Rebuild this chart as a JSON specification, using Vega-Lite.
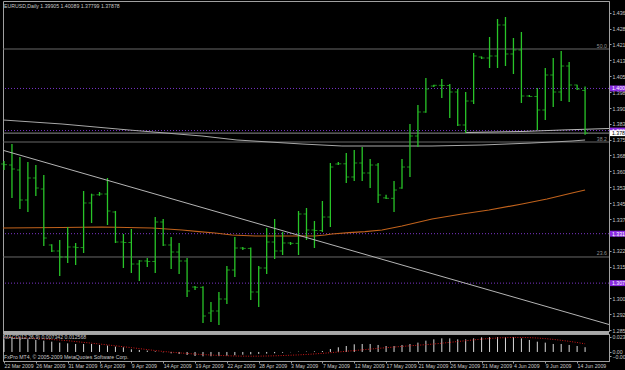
{
  "$schema": "https://vega.github.io/schema/vega-lite/v6.json",
  "background": "#000000",
  "padding": {"left": 0, "top": 0, "right": 0, "bottom": 0},
  "spacing": 3,
  "bounds": "flush",
  "config": {
    "view": {"stroke": "#a0a0a0", "strokeWidth": 1},
    "axis": {"labelFont": "Liberation Sans", "labelFontSize": 5.2, "labelColor": "#c8c8c8", "domainColor": "#a0a0a0", "tickColor": "#a0a0a0", "grid": false},
    "text": {"font": "Liberation Sans"}
  },
  "datasets": {
    "bars": [
      {"i":0,"o":1.36411,"h":1.36553,"l":1.36126,"c":1.36380},
      {"i":1,"o":1.36363,"h":1.37361,"l":1.34795,"c":1.36173},
      {"i":2,"o":1.36126,"h":1.36743,"l":1.34273,"c":1.34700},
      {"i":3,"o":1.34700,"h":1.36506,"l":1.34130,"c":1.35746},
      {"i":4,"o":1.35746,"h":1.36363,"l":1.34890,"c":1.35270},
      {"i":5,"o":1.35223,"h":1.35888,"l":1.32514,"c":1.32894},
      {"i":6,"o":1.32562,"h":1.32600,"l":1.32229,"c":1.32277},
      {"i":7,"o":1.32277,"h":1.32799,"l":1.31089,"c":1.31992},
      {"i":8,"o":1.31992,"h":1.33417,"l":1.31707,"c":1.32467},
      {"i":9,"o":1.32467,"h":1.32657,"l":1.31612,"c":1.32440},
      {"i":10,"o":1.32440,"h":1.35128,"l":1.32182,"c":1.34558},
      {"i":11,"o":1.34558,"h":1.35000,"l":1.33607,"c":1.34938},
      {"i":12,"o":1.34950,"h":1.35080,"l":1.34900,"c":1.34985},
      {"i":13,"o":1.34985,"h":1.35746,"l":1.33512,"c":1.34177},
      {"i":14,"o":1.34130,"h":1.34180,"l":1.32657,"c":1.32704},
      {"i":15,"o":1.32704,"h":1.33085,"l":1.31469,"c":1.32680},
      {"i":16,"o":1.32680,"h":1.33322,"l":1.31231,"c":1.31659},
      {"i":17,"o":1.31659,"h":1.31849,"l":1.30851,"c":1.31802},
      {"i":18,"o":1.31802,"h":1.31944,"l":1.31517,"c":1.31780},
      {"i":19,"o":1.31780,"h":1.33892,"l":1.31231,"c":1.33655},
      {"i":20,"o":1.33655,"h":1.33797,"l":1.32520,"c":1.32562},
      {"i":21,"o":1.32562,"h":1.32942,"l":1.31421,"c":1.32229},
      {"i":22,"o":1.32229,"h":1.32657,"l":1.31184,"c":1.31802},
      {"i":23,"o":1.31802,"h":1.31944,"l":1.30091,"c":1.30376},
      {"i":24,"o":1.30566,"h":1.30614,"l":1.30424,"c":1.30550},
      {"i":25,"o":1.30550,"h":1.30600,"l":1.28856,"c":1.29188},
      {"i":26,"o":1.29331,"h":1.29853,"l":1.28903,"c":1.29426},
      {"i":27,"o":1.29426,"h":1.30329,"l":1.28761,"c":1.29996},
      {"i":28,"o":1.29996,"h":1.31564,"l":1.29758,"c":1.31374},
      {"i":29,"o":1.31374,"h":1.32942,"l":1.31041,"c":1.32419},
      {"i":30,"o":1.32419,"h":1.32467,"l":1.32324,"c":1.32400},
      {"i":31,"o":1.32400,"h":1.32440,"l":1.29948,"c":1.30329},
      {"i":32,"o":1.30329,"h":1.31564,"l":1.29616,"c":1.31469},
      {"i":33,"o":1.31469,"h":1.33370,"l":1.31184,"c":1.32704},
      {"i":34,"o":1.32704,"h":1.33797,"l":1.31897,"c":1.32277},
      {"i":35,"o":1.32277,"h":1.33180,"l":1.32087,"c":1.32657},
      {"i":36,"o":1.32657,"h":1.32704,"l":1.32562,"c":1.32640},
      {"i":37,"o":1.32640,"h":1.34177,"l":1.32087,"c":1.34035},
      {"i":38,"o":1.34035,"h":1.34320,"l":1.32799,"c":1.33275},
      {"i":39,"o":1.33275,"h":1.33702,"l":1.32419,"c":1.33250},
      {"i":40,"o":1.33250,"h":1.34653,"l":1.33180,"c":1.33892},
      {"i":41,"o":1.33892,"h":1.36458,"l":1.33417,"c":1.36268},
      {"i":42,"o":1.36411,"h":1.36506,"l":1.36363,"c":1.36420},
      {"i":43,"o":1.36420,"h":1.36933,"l":1.35508,"c":1.35793},
      {"i":44,"o":1.35793,"h":1.37076,"l":1.35603,"c":1.36458},
      {"i":45,"o":1.36458,"h":1.37219,"l":1.35603,"c":1.35983},
      {"i":46,"o":1.35983,"h":1.36648,"l":1.35270,"c":1.36363},
      {"i":47,"o":1.36363,"h":1.36458,"l":1.34558,"c":1.34938},
      {"i":48,"o":1.34800,"h":1.34950,"l":1.34748,"c":1.34780},
      {"i":49,"o":1.34780,"h":1.35603,"l":1.34130,"c":1.35175},
      {"i":50,"o":1.35270,"h":1.36648,"l":1.35240,"c":1.36268},
      {"i":51,"o":1.36268,"h":1.38311,"l":1.35793,"c":1.37741},
      {"i":52,"o":1.37741,"h":1.39214,"l":1.37219,"c":1.38882},
      {"i":53,"o":1.38882,"h":1.40497,"l":1.38850,"c":1.39975},
      {"i":54,"o":1.40117,"h":1.40180,"l":1.40070,"c":1.40150},
      {"i":55,"o":1.40150,"h":1.40450,"l":1.39547,"c":1.40140},
      {"i":56,"o":1.40140,"h":1.40212,"l":1.38597,"c":1.39832},
      {"i":57,"o":1.39832,"h":1.39975,"l":1.38216,"c":1.38264},
      {"i":58,"o":1.38264,"h":1.39832,"l":1.37884,"c":1.39404},
      {"i":59,"o":1.39404,"h":1.41685,"l":1.39262,"c":1.41543},
      {"i":60,"o":1.41495,"h":1.41520,"l":1.41400,"c":1.41448},
      {"i":61,"o":1.41448,"h":1.42445,"l":1.40972,"c":1.41543},
      {"i":62,"o":1.41543,"h":1.43301,"l":1.40972,"c":1.43016},
      {"i":63,"o":1.43016,"h":1.43396,"l":1.41067,"c":1.41638},
      {"i":64,"o":1.41638,"h":1.42398,"l":1.40687,"c":1.41828},
      {"i":65,"o":1.41828,"h":1.42683,"l":1.39309,"c":1.39642},
      {"i":66,"o":1.39642,"h":1.39689,"l":1.39594,"c":1.39620},
      {"i":67,"o":1.39620,"h":1.40022,"l":1.38026,"c":1.38977},
      {"i":68,"o":1.38977,"h":1.40972,"l":1.38502,"c":1.40640},
      {"i":69,"o":1.40640,"h":1.41448,"l":1.39119,"c":1.39832},
      {"i":70,"o":1.39832,"h":1.41780,"l":1.39404,"c":1.41067},
      {"i":71,"o":1.41067,"h":1.41257,"l":1.39357,"c":1.40165},
      {"i":72,"o":1.40165,"h":1.40180,"l":1.39927,"c":1.39975},
      {"i":73,"o":1.39905,"h":1.40089,"l":1.37799,"c":1.37878}
    ],
    "macd": [
      {"i":0,"m":0.0195,"s":0.0225},{"i":1,"m":0.0226,"s":0.0222},{"i":2,"m":0.0226,"s":0.0219},{"i":3,"m":0.0195,"s":0.0215},
      {"i":4,"m":0.0185,"s":0.0210},{"i":5,"m":0.0175,"s":0.0201},{"i":6,"m":0.0159,"s":0.0192},{"i":7,"m":0.0144,"s":0.0183},
      {"i":8,"m":0.0133,"s":0.0174},{"i":9,"m":0.0123,"s":0.0161},{"i":10,"m":0.0123,"s":0.0148},{"i":11,"m":0.0123,"s":0.0136},
      {"i":12,"m":0.0108,"s":0.0123},{"i":13,"m":0.0098,"s":0.0109},{"i":14,"m":0.0082,"s":0.0095},{"i":15,"m":0.0072,"s":0.0081},
      {"i":16,"m":0.0041,"s":0.0067},{"i":17,"m":0.0031,"s":0.0052},{"i":18,"m":0.0021,"s":0.0037},{"i":19,"m":0.0010,"s":0.0022},
      {"i":20,"m":-0.0005,"s":0.0008},{"i":21,"m":-0.0021,"s":-0.0003},{"i":22,"m":-0.0031,"s":-0.0013},{"i":23,"m":-0.0046,"s":-0.0023},
      {"i":24,"m":-0.0062,"s":-0.0032},{"i":25,"m":-0.0067,"s":-0.0040},{"i":26,"m":-0.0066,"s":-0.0047},{"i":27,"m":-0.0064,"s":-0.0053},
      {"i":28,"m":-0.0058,"s":-0.0058},{"i":29,"m":-0.0050,"s":-0.0062},{"i":30,"m":-0.0042,"s":-0.0064},{"i":31,"m":-0.0036,"s":-0.0065},
      {"i":32,"m":-0.0030,"s":-0.0064},{"i":33,"m":-0.0025,"s":-0.0062},{"i":34,"m":-0.0020,"s":-0.0059},{"i":35,"m":-0.0012,"s":-0.0055},
      {"i":36,"m":-0.0004,"s":-0.0050},{"i":37,"m":0.0005,"s":-0.0045},{"i":38,"m":0.0006,"s":-0.0038},{"i":39,"m":0.0010,"s":-0.0030},
      {"i":40,"m":0.0015,"s":-0.0021},{"i":41,"m":0.0046,"s":-0.0011},{"i":42,"m":0.0072,"s":0.0000},{"i":43,"m":0.0092,"s":0.0011},
      {"i":44,"m":0.0118,"s":0.0022},{"i":45,"m":0.0123,"s":0.0033},{"i":46,"m":0.0123,"s":0.0044},{"i":47,"m":0.0108,"s":0.0055},
      {"i":48,"m":0.0092,"s":0.0066},{"i":49,"m":0.0092,"s":0.0076},{"i":50,"m":0.0108,"s":0.0086},{"i":51,"m":0.0123,"s":0.0095},
      {"i":52,"m":0.0144,"s":0.0104},{"i":53,"m":0.0174,"s":0.0113},{"i":54,"m":0.0195,"s":0.0123},{"i":55,"m":0.0210,"s":0.0135},
      {"i":56,"m":0.0210,"s":0.0148},{"i":57,"m":0.0195,"s":0.0161},{"i":58,"m":0.0195,"s":0.0174},{"i":59,"m":0.0210,"s":0.0186},
      {"i":60,"m":0.0226,"s":0.0198},{"i":61,"m":0.0229,"s":0.0208},{"i":62,"m":0.0231,"s":0.0216},{"i":63,"m":0.0230,"s":0.0221},
      {"i":64,"m":0.0229,"s":0.0224},{"i":65,"m":0.0210,"s":0.0224},{"i":66,"m":0.0185,"s":0.0221},{"i":67,"m":0.0159,"s":0.0215},
      {"i":68,"m":0.0144,"s":0.0206},{"i":69,"m":0.0123,"s":0.0194},{"i":70,"m":0.0123,"s":0.0180},{"i":71,"m":0.0108,"s":0.0164},
      {"i":72,"m":0.0092,"s":0.0146},{"i":73,"m":0.007342,"s":0.012568}
    ],
    "fib": [{"lvl":"50.0","p":1.41875},{"lvl":"38.2","p":1.37456},{"lvl":"23.6","p":1.31992}],
    "hlines": [{"p":1.40000,"lab":"1.40000"},{"p":1.38000,"lab":"1.38000"},{"p":1.33100,"lab":"1.33100"},{"p":1.30750,"lab":"1.30750"}],
    "bid": [{"p":1.37878,"lab":"1.37878"}],
    "maGrey": [
      {"i":-0.126,"p":1.38502},{"i":7.29,"p":1.38311},{"i":15.7,"p":1.38026},{"i":24.87,"p":1.37741},{"i":29.27,"p":1.37551},
      {"i":37.44,"p":1.37361},{"i":42.46,"p":1.37266},{"i":53.77,"p":1.37266},{"i":60.05,"p":1.37313},{"i":66.33,"p":1.37408},
      {"i":71.36,"p":1.37503},{"i":73,"p":1.37551}
    ],
    "lineA": [{"i":57.91,"p":1.37908},{"i":65.08,"p":1.37955},{"i":70.1,"p":1.38026},{"i":76.0,"p":1.38098}],
    "maOrange": [
      {"i":-0.126,"p":1.33370},{"i":7.29,"p":1.33393},{"i":12.31,"p":1.33417},{"i":18.59,"p":1.33370},{"i":22.36,"p":1.33275},
      {"i":24.5,"p":1.33195},{"i":26.51,"p":1.33133},{"i":28.64,"p":1.33038},{"i":31.53,"p":1.32990},{"i":39.07,"p":1.32990},
      {"i":40.33,"p":1.33038},{"i":41.21,"p":1.33085},{"i":43.34,"p":1.33147},{"i":45.35,"p":1.33195},{"i":47.49,"p":1.33275},
      {"i":50.0,"p":1.33465},{"i":53.77,"p":1.33797},{"i":57.54,"p":1.34035},{"i":60.93,"p":1.34225},{"i":65.08,"p":1.34510},
      {"i":68.22,"p":1.34748},{"i":71.36,"p":1.35033},{"i":73,"p":1.35175}
    ],
    "trend": [{"i":-0.1256,"p":1.37062},{"i":76.005,"p":1.28784}]
  },
  "vconcat": [
    {
      "width": 606,
      "height": 330,
      "layer": [
        {
          "data": {"name": "fib"},
          "mark": {"type": "rule", "color": "#686868", "strokeWidth": 1},
          "encoding": {
            "y": {"field": "p", "type": "quantitative", "title": null, "scale": {"domain": [1.284754, 1.44156], "nice": false, "zero": false},
                  "axis": {"orient": "right", "values": [1.436, 1.4284, 1.421, 1.4134, 1.4058, 1.3982, 1.3906, 1.3832, 1.3756, 1.3682, 1.3606, 1.353, 1.3454, 1.3378, 1.3304, 1.3228, 1.3154, 1.3078, 1.3002, 1.2926, 1.2852], "format": ".5f", "tickSize": 2, "labelPadding": 1, "title": null, "labelOverlap": false, "labelFlush": false}}
          }
        },
        {
          "data": {"name": "fib"},
          "mark": {"type": "text", "align": "right", "baseline": "bottom", "fontSize": 5.2, "color": "#909090", "dy": -0.5},
          "encoding": {
            "x": {"datum": 75.75, "type": "quantitative", "title": null, "scale": {"domain": [-0.1256, 76.005], "nice": false, "zero": false}, "axis": {"orient": "bottom", "labels": false, "ticks": false, "domain": false, "title": null}},
            "y": {"field": "p", "type": "quantitative", "title": null, "scale": {"domain": [1.284754, 1.44156], "nice": false, "zero": false},
                  "axis": {"orient": "right", "values": [1.436, 1.4284, 1.421, 1.4134, 1.4058, 1.3982, 1.3906, 1.3832, 1.3756, 1.3682, 1.3606, 1.353, 1.3454, 1.3378, 1.3304, 1.3228, 1.3154, 1.3078, 1.3002, 1.2926, 1.2852], "format": ".5f", "tickSize": 2, "labelPadding": 1, "title": null, "labelOverlap": false, "labelFlush": false}},
            "text": {"field": "lvl"}
          }
        },
        {
          "data": {"name": "hlines"},
          "mark": {"type": "rule", "color": "#7a34c8", "strokeWidth": 1, "strokeDash": [1, 2]},
          "encoding": {
            "y": {"field": "p", "type": "quantitative", "title": null, "scale": {"domain": [1.284754, 1.44156], "nice": false, "zero": false},
                  "axis": {"orient": "right", "values": [1.436, 1.4284, 1.421, 1.4134, 1.4058, 1.3982, 1.3906, 1.3832, 1.3756, 1.3682, 1.3606, 1.353, 1.3454, 1.3378, 1.3304, 1.3228, 1.3154, 1.3078, 1.3002, 1.2926, 1.2852], "format": ".5f", "tickSize": 2, "labelPadding": 1, "title": null, "labelOverlap": false, "labelFlush": false}}
          }
        },
        {
          "data": {"name": "bid"},
          "mark": {"type": "rule", "color": "#8c8c8c", "strokeWidth": 1},
          "encoding": {
            "y": {"field": "p", "type": "quantitative", "title": null, "scale": {"domain": [1.284754, 1.44156], "nice": false, "zero": false},
                  "axis": {"orient": "right", "values": [1.436, 1.4284, 1.421, 1.4134, 1.4058, 1.3982, 1.3906, 1.3832, 1.3756, 1.3682, 1.3606, 1.353, 1.3454, 1.3378, 1.3304, 1.3228, 1.3154, 1.3078, 1.3002, 1.2926, 1.2852], "format": ".5f", "tickSize": 2, "labelPadding": 1, "title": null, "labelOverlap": false, "labelFlush": false}}
          }
        },
        {
          "data": {"name": "maGrey"},
          "mark": {"type": "line", "color": "#a8a8a8", "strokeWidth": 1},
          "encoding": {
            "x": {"field": "i", "type": "quantitative", "title": null, "scale": {"domain": [-0.1256, 76.005], "nice": false, "zero": false}, "axis": {"orient": "bottom", "labels": false, "ticks": false, "domain": false, "title": null}},
            "y": {"field": "p", "type": "quantitative", "title": null, "scale": {"domain": [1.284754, 1.44156], "nice": false, "zero": false},
                  "axis": {"orient": "right", "values": [1.436, 1.4284, 1.421, 1.4134, 1.4058, 1.3982, 1.3906, 1.3832, 1.3756, 1.3682, 1.3606, 1.353, 1.3454, 1.3378, 1.3304, 1.3228, 1.3154, 1.3078, 1.3002, 1.2926, 1.2852], "format": ".5f", "tickSize": 2, "labelPadding": 1, "title": null, "labelOverlap": false, "labelFlush": false}}
          }
        },
        {
          "data": {"name": "lineA"},
          "mark": {"type": "line", "color": "#b8b8b8", "strokeWidth": 1},
          "encoding": {
            "x": {"field": "i", "type": "quantitative", "title": null, "scale": {"domain": [-0.1256, 76.005], "nice": false, "zero": false}, "axis": {"orient": "bottom", "labels": false, "ticks": false, "domain": false, "title": null}},
            "y": {"field": "p", "type": "quantitative", "title": null, "scale": {"domain": [1.284754, 1.44156], "nice": false, "zero": false},
                  "axis": {"orient": "right", "values": [1.436, 1.4284, 1.421, 1.4134, 1.4058, 1.3982, 1.3906, 1.3832, 1.3756, 1.3682, 1.3606, 1.353, 1.3454, 1.3378, 1.3304, 1.3228, 1.3154, 1.3078, 1.3002, 1.2926, 1.2852], "format": ".5f", "tickSize": 2, "labelPadding": 1, "title": null, "labelOverlap": false, "labelFlush": false}}
          }
        },
        {
          "data": {"name": "maOrange"},
          "mark": {"type": "line", "color": "#c0621c", "strokeWidth": 1.2},
          "encoding": {
            "x": {"field": "i", "type": "quantitative", "title": null, "scale": {"domain": [-0.1256, 76.005], "nice": false, "zero": false}, "axis": {"orient": "bottom", "labels": false, "ticks": false, "domain": false, "title": null}},
            "y": {"field": "p", "type": "quantitative", "title": null, "scale": {"domain": [1.284754, 1.44156], "nice": false, "zero": false},
                  "axis": {"orient": "right", "values": [1.436, 1.4284, 1.421, 1.4134, 1.4058, 1.3982, 1.3906, 1.3832, 1.3756, 1.3682, 1.3606, 1.353, 1.3454, 1.3378, 1.3304, 1.3228, 1.3154, 1.3078, 1.3002, 1.2926, 1.2852], "format": ".5f", "tickSize": 2, "labelPadding": 1, "title": null, "labelOverlap": false, "labelFlush": false}}
          }
        },
        {
          "data": {"name": "bars"},
          "mark": {"type": "rule", "strokeWidth": 1.3, "color": "#28c428"},
          "encoding": {
            "x": {"field": "i", "type": "quantitative", "title": null, "scale": {"domain": [-0.1256, 76.005], "nice": false, "zero": false}, "axis": {"orient": "bottom", "labels": false, "ticks": false, "domain": false, "title": null}},
            "y": {"field": "l", "type": "quantitative", "title": null, "scale": {"domain": [1.284754, 1.44156], "nice": false, "zero": false},
                  "axis": {"orient": "right", "values": [1.436, 1.4284, 1.421, 1.4134, 1.4058, 1.3982, 1.3906, 1.3832, 1.3756, 1.3682, 1.3606, 1.353, 1.3454, 1.3378, 1.3304, 1.3228, 1.3154, 1.3078, 1.3002, 1.2926, 1.2852], "format": ".5f", "tickSize": 2, "labelPadding": 1, "title": null, "labelOverlap": false, "labelFlush": false}},
            "y2": {"field": "h"}
          }
        },
        {
          "data": {"name": "bars"},
          "mark": {"type": "tick", "orient": "horizontal", "size": 3, "thickness": 1, "xOffset": -1.5, "color": "#28c428"},
          "encoding": {
            "x": {"field": "i", "type": "quantitative", "title": null, "scale": {"domain": [-0.1256, 76.005], "nice": false, "zero": false}, "axis": {"orient": "bottom", "labels": false, "ticks": false, "domain": false, "title": null}},
            "y": {"field": "o", "type": "quantitative", "title": null, "scale": {"domain": [1.284754, 1.44156], "nice": false, "zero": false},
                  "axis": {"orient": "right", "values": [1.436, 1.4284, 1.421, 1.4134, 1.4058, 1.3982, 1.3906, 1.3832, 1.3756, 1.3682, 1.3606, 1.353, 1.3454, 1.3378, 1.3304, 1.3228, 1.3154, 1.3078, 1.3002, 1.2926, 1.2852], "format": ".5f", "tickSize": 2, "labelPadding": 1, "title": null, "labelOverlap": false, "labelFlush": false}}
          }
        },
        {
          "data": {"name": "bars"},
          "mark": {"type": "tick", "orient": "horizontal", "size": 3, "thickness": 1, "xOffset": 1.5, "color": "#28c428"},
          "encoding": {
            "x": {"field": "i", "type": "quantitative", "title": null, "scale": {"domain": [-0.1256, 76.005], "nice": false, "zero": false}, "axis": {"orient": "bottom", "labels": false, "ticks": false, "domain": false, "title": null}},
            "y": {"field": "c", "type": "quantitative", "title": null, "scale": {"domain": [1.284754, 1.44156], "nice": false, "zero": false},
                  "axis": {"orient": "right", "values": [1.436, 1.4284, 1.421, 1.4134, 1.4058, 1.3982, 1.3906, 1.3832, 1.3756, 1.3682, 1.3606, 1.353, 1.3454, 1.3378, 1.3304, 1.3228, 1.3154, 1.3078, 1.3002, 1.2926, 1.2852], "format": ".5f", "tickSize": 2, "labelPadding": 1, "title": null, "labelOverlap": false, "labelFlush": false}}
          }
        },
        {
          "data": {"name": "trend"},
          "mark": {"type": "line", "color": "#b4b4b4", "strokeWidth": 1},
          "encoding": {
            "x": {"field": "i", "type": "quantitative", "title": null, "scale": {"domain": [-0.1256, 76.005], "nice": false, "zero": false}, "axis": {"orient": "bottom", "labels": false, "ticks": false, "domain": false, "title": null}},
            "y": {"field": "p", "type": "quantitative", "title": null, "scale": {"domain": [1.284754, 1.44156], "nice": false, "zero": false},
                  "axis": {"orient": "right", "values": [1.436, 1.4284, 1.421, 1.4134, 1.4058, 1.3982, 1.3906, 1.3832, 1.3756, 1.3682, 1.3606, 1.353, 1.3454, 1.3378, 1.3304, 1.3228, 1.3154, 1.3078, 1.3002, 1.2926, 1.2852], "format": ".5f", "tickSize": 2, "labelPadding": 1, "title": null, "labelOverlap": false, "labelFlush": false}}
          }
        },
        {
          "data": {"values": [{"t": "EURUSD,Daily  1.39905 1.40089 1.37799 1.37878"}]},
          "mark": {"type": "text", "align": "left", "baseline": "middle", "fontSize": 5.2, "color": "#c8c8c8"},
          "encoding": {
            "x": {"datum": 0, "type": "quantitative", "title": null, "scale": {"domain": [-0.1256, 76.005], "nice": false, "zero": false}, "axis": {"orient": "bottom", "labels": false, "ticks": false, "domain": false, "title": null}},
            "y": {"datum": 1.43942, "type": "quantitative", "title": null, "scale": {"domain": [1.284754, 1.44156], "nice": false, "zero": false},
                  "axis": {"orient": "right", "values": [1.436, 1.4284, 1.421, 1.4134, 1.4058, 1.3982, 1.3906, 1.3832, 1.3756, 1.3682, 1.3606, 1.353, 1.3454, 1.3378, 1.3304, 1.3228, 1.3154, 1.3078, 1.3002, 1.2926, 1.2852], "format": ".5f", "tickSize": 2, "labelPadding": 1, "title": null, "labelOverlap": false, "labelFlush": false}},
            "text": {"field": "t"}
          }
        },
        {
          "data": {"name": "hlines"},
          "mark": {"type": "point", "shape": "M-1,-0.33L1,-0.33L1,0.33L-1,0.33Z", "size": 324, "filled": true, "opacity": 1, "color": "#8a2be2", "clip": false},
          "encoding": {
            "x": {"datum": 77.26, "type": "quantitative", "title": null, "scale": {"domain": [-0.1256, 76.005], "nice": false, "zero": false}, "axis": {"orient": "bottom", "labels": false, "ticks": false, "domain": false, "title": null}},
            "y": {"field": "p", "type": "quantitative", "title": null, "scale": {"domain": [1.284754, 1.44156], "nice": false, "zero": false},
                  "axis": {"orient": "right", "values": [1.436, 1.4284, 1.421, 1.4134, 1.4058, 1.3982, 1.3906, 1.3832, 1.3756, 1.3682, 1.3606, 1.353, 1.3454, 1.3378, 1.3304, 1.3228, 1.3154, 1.3078, 1.3002, 1.2926, 1.2852], "format": ".5f", "tickSize": 2, "labelPadding": 1, "title": null, "labelOverlap": false, "labelFlush": false}}
          }
        },
        {
          "data": {"name": "hlines"},
          "mark": {"type": "text", "align": "left", "baseline": "middle", "fontSize": 5.2, "color": "#ffffff", "clip": false},
          "encoding": {
            "x": {"datum": 76.38, "type": "quantitative", "title": null, "scale": {"domain": [-0.1256, 76.005], "nice": false, "zero": false}, "axis": {"orient": "bottom", "labels": false, "ticks": false, "domain": false, "title": null}},
            "y": {"field": "p", "type": "quantitative", "title": null, "scale": {"domain": [1.284754, 1.44156], "nice": false, "zero": false},
                  "axis": {"orient": "right", "values": [1.436, 1.4284, 1.421, 1.4134, 1.4058, 1.3982, 1.3906, 1.3832, 1.3756, 1.3682, 1.3606, 1.353, 1.3454, 1.3378, 1.3304, 1.3228, 1.3154, 1.3078, 1.3002, 1.2926, 1.2852], "format": ".5f", "tickSize": 2, "labelPadding": 1, "title": null, "labelOverlap": false, "labelFlush": false}},
            "text": {"field": "lab"}
          }
        },
        {
          "data": {"name": "bid"},
          "mark": {"type": "point", "shape": "M-1,-0.33L1,-0.33L1,0.33L-1,0.33Z", "size": 324, "filled": true, "opacity": 1, "color": "#ffffff", "clip": false},
          "encoding": {
            "x": {"datum": 77.26, "type": "quantitative", "title": null, "scale": {"domain": [-0.1256, 76.005], "nice": false, "zero": false}, "axis": {"orient": "bottom", "labels": false, "ticks": false, "domain": false, "title": null}},
            "y": {"field": "p", "type": "quantitative", "title": null, "scale": {"domain": [1.284754, 1.44156], "nice": false, "zero": false},
                  "axis": {"orient": "right", "values": [1.436, 1.4284, 1.421, 1.4134, 1.4058, 1.3982, 1.3906, 1.3832, 1.3756, 1.3682, 1.3606, 1.353, 1.3454, 1.3378, 1.3304, 1.3228, 1.3154, 1.3078, 1.3002, 1.2926, 1.2852], "format": ".5f", "tickSize": 2, "labelPadding": 1, "title": null, "labelOverlap": false, "labelFlush": false}}
          }
        },
        {
          "data": {"name": "bid"},
          "mark": {"type": "text", "align": "left", "baseline": "middle", "fontSize": 5.2, "color": "#000000", "clip": false},
          "encoding": {
            "x": {"datum": 76.38, "type": "quantitative", "title": null, "scale": {"domain": [-0.1256, 76.005], "nice": false, "zero": false}, "axis": {"orient": "bottom", "labels": false, "ticks": false, "domain": false, "title": null}},
            "y": {"field": "p", "type": "quantitative", "title": null, "scale": {"domain": [1.284754, 1.44156], "nice": false, "zero": false},
                  "axis": {"orient": "right", "values": [1.436, 1.4284, 1.421, 1.4134, 1.4058, 1.3982, 1.3906, 1.3832, 1.3756, 1.3682, 1.3606, 1.353, 1.3454, 1.3378, 1.3304, 1.3228, 1.3154, 1.3078, 1.3002, 1.2926, 1.2852], "format": ".5f", "tickSize": 2, "labelPadding": 1, "title": null, "labelOverlap": false, "labelFlush": false}},
            "text": {"field": "lab"}
          }
        }
      ]
    },
    {
      "width": 606,
      "height": 27,
      "layer": [
        {
          "data": {"values": [{"band": "separator"}]},
          "mark": {"type": "rect", "color": "#a8a8a8", "clip": false},
          "encoding": {
            "x": {"datum": -0.1256, "type": "quantitative", "title": null, "scale": {"domain": [-0.1256, 76.005], "nice": false, "zero": false},
                  "axis": {"orient": "bottom", "values": [0, 4, 8, 12, 16, 20, 24, 28, 32, 36, 40, 44, 48, 52, 56, 60, 64, 68, 72], "labelExpr": "['22 Mar 2009','26 Mar 2009','31 Mar 2009','6 Apr 2009','9 Apr 2009','14 Apr 2009','19 Apr 2009','22 Apr 2009','28 Apr 2009','3 May 2009','7 May 2009','12 May 2009','17 May 2009','21 May 2009','26 May 2009','31 May 2009','4 Jun 2009','9 Jun 2009','14 Jun 2009'][round(datum.value / 4)]", "labelAlign": "left", "labelBaseline": "top", "tickSize": 2, "labelPadding": 0.5, "title": null, "labelOverlap": false, "labelFlush": false}},
            "x2": {"datum": 76.005},
            "y": {"datum": 0.0277, "type": "quantitative", "title": null, "scale": {"domain": [-0.0139, 0.0277], "nice": false, "zero": false},
                  "axis": {"orient": "right", "values": [0.023097, 0, -0.006697], "labelExpr": "datum.value == 0 ? '0.00' : format(datum.value, '.6f')", "tickSize": 2, "labelPadding": 1, "title": null, "labelOverlap": false, "labelFlush": false}},
            "y2": {"datum": 0.03232}
          }
        },
        {
          "data": {"name": "macd"},
          "mark": {"type": "rule", "color": "#d8d8d8", "strokeWidth": 1},
          "encoding": {
            "x": {"field": "i", "type": "quantitative", "title": null, "scale": {"domain": [-0.1256, 76.005], "nice": false, "zero": false},
                  "axis": {"orient": "bottom", "values": [0, 4, 8, 12, 16, 20, 24, 28, 32, 36, 40, 44, 48, 52, 56, 60, 64, 68, 72], "labelExpr": "['22 Mar 2009','26 Mar 2009','31 Mar 2009','6 Apr 2009','9 Apr 2009','14 Apr 2009','19 Apr 2009','22 Apr 2009','28 Apr 2009','3 May 2009','7 May 2009','12 May 2009','17 May 2009','21 May 2009','26 May 2009','31 May 2009','4 Jun 2009','9 Jun 2009','14 Jun 2009'][round(datum.value / 4)]", "labelAlign": "left", "labelBaseline": "top", "tickSize": 2, "labelPadding": 0.5, "title": null, "labelOverlap": false, "labelFlush": false}},
            "y": {"field": "m", "type": "quantitative", "title": null, "scale": {"domain": [-0.0139, 0.0277], "nice": false, "zero": false},
                  "axis": {"orient": "right", "values": [0.023097, 0, -0.006697], "labelExpr": "datum.value == 0 ? '0.00' : format(datum.value, '.6f')", "tickSize": 2, "labelPadding": 1, "title": null, "labelOverlap": false, "labelFlush": false}},
            "y2": {"datum": 0}
          }
        },
        {
          "data": {"name": "macd"},
          "mark": {"type": "line", "color": "#d01818", "strokeWidth": 1, "strokeDash": [1, 1.5]},
          "encoding": {
            "x": {"field": "i", "type": "quantitative", "title": null, "scale": {"domain": [-0.1256, 76.005], "nice": false, "zero": false},
                  "axis": {"orient": "bottom", "values": [0, 4, 8, 12, 16, 20, 24, 28, 32, 36, 40, 44, 48, 52, 56, 60, 64, 68, 72], "labelExpr": "['22 Mar 2009','26 Mar 2009','31 Mar 2009','6 Apr 2009','9 Apr 2009','14 Apr 2009','19 Apr 2009','22 Apr 2009','28 Apr 2009','3 May 2009','7 May 2009','12 May 2009','17 May 2009','21 May 2009','26 May 2009','31 May 2009','4 Jun 2009','9 Jun 2009','14 Jun 2009'][round(datum.value / 4)]", "labelAlign": "left", "labelBaseline": "top", "tickSize": 2, "labelPadding": 0.5, "title": null, "labelOverlap": false, "labelFlush": false}},
            "y": {"field": "s", "type": "quantitative", "title": null, "scale": {"domain": [-0.0139, 0.0277], "nice": false, "zero": false},
                  "axis": {"orient": "right", "values": [0.023097, 0, -0.006697], "labelExpr": "datum.value == 0 ? '0.00' : format(datum.value, '.6f')", "tickSize": 2, "labelPadding": 1, "title": null, "labelOverlap": false, "labelFlush": false}}
          }
        },
        {
          "data": {"values": [{"t": "MACD(12,26,9) 0.007342 0.012568"}]},
          "mark": {"type": "text", "align": "left", "baseline": "middle", "fontSize": 5.2, "color": "#c8c8c8"},
          "encoding": {
            "x": {"datum": 0, "type": "quantitative", "title": null, "scale": {"domain": [-0.1256, 76.005], "nice": false, "zero": false},
                  "axis": {"orient": "bottom", "values": [0, 4, 8, 12, 16, 20, 24, 28, 32, 36, 40, 44, 48, 52, 56, 60, 64, 68, 72], "labelExpr": "['22 Mar 2009','26 Mar 2009','31 Mar 2009','6 Apr 2009','9 Apr 2009','14 Apr 2009','19 Apr 2009','22 Apr 2009','28 Apr 2009','3 May 2009','7 May 2009','12 May 2009','17 May 2009','21 May 2009','26 May 2009','31 May 2009','4 Jun 2009','9 Jun 2009','14 Jun 2009'][round(datum.value / 4)]", "labelAlign": "left", "labelBaseline": "top", "tickSize": 2, "labelPadding": 0.5, "title": null, "labelOverlap": false, "labelFlush": false}},
            "y": {"datum": 0.0226, "type": "quantitative", "title": null, "scale": {"domain": [-0.0139, 0.0277], "nice": false, "zero": false},
                  "axis": {"orient": "right", "values": [0.023097, 0, -0.006697], "labelExpr": "datum.value == 0 ? '0.00' : format(datum.value, '.6f')", "tickSize": 2, "labelPadding": 1, "title": null, "labelOverlap": false, "labelFlush": false}},
            "text": {"field": "t"}
          }
        },
        {
          "data": {"values": [{"t": "FxPro MT4, © 2005-2009 MetaQuotes Software Corp."}]},
          "mark": {"type": "text", "align": "left", "baseline": "middle", "fontSize": 5.2, "color": "#c8c8c8"},
          "encoding": {
            "x": {"datum": 0, "type": "quantitative", "title": null, "scale": {"domain": [-0.1256, 76.005], "nice": false, "zero": false},
                  "axis": {"orient": "bottom", "values": [0, 4, 8, 12, 16, 20, 24, 28, 32, 36, 40, 44, 48, 52, 56, 60, 64, 68, 72], "labelExpr": "['22 Mar 2009','26 Mar 2009','31 Mar 2009','6 Apr 2009','9 Apr 2009','14 Apr 2009','19 Apr 2009','22 Apr 2009','28 Apr 2009','3 May 2009','7 May 2009','12 May 2009','17 May 2009','21 May 2009','26 May 2009','31 May 2009','4 Jun 2009','9 Jun 2009','14 Jun 2009'][round(datum.value / 4)]", "labelAlign": "left", "labelBaseline": "top", "tickSize": 2, "labelPadding": 0.5, "title": null, "labelOverlap": false, "labelFlush": false}},
            "y": {"datum": -0.0082, "type": "quantitative", "title": null, "scale": {"domain": [-0.0139, 0.0277], "nice": false, "zero": false},
                  "axis": {"orient": "right", "values": [0.023097, 0, -0.006697], "labelExpr": "datum.value == 0 ? '0.00' : format(datum.value, '.6f')", "tickSize": 2, "labelPadding": 1, "title": null, "labelOverlap": false, "labelFlush": false}},
            "text": {"field": "t"}
          }
        }
      ]
    }
  ]
}
